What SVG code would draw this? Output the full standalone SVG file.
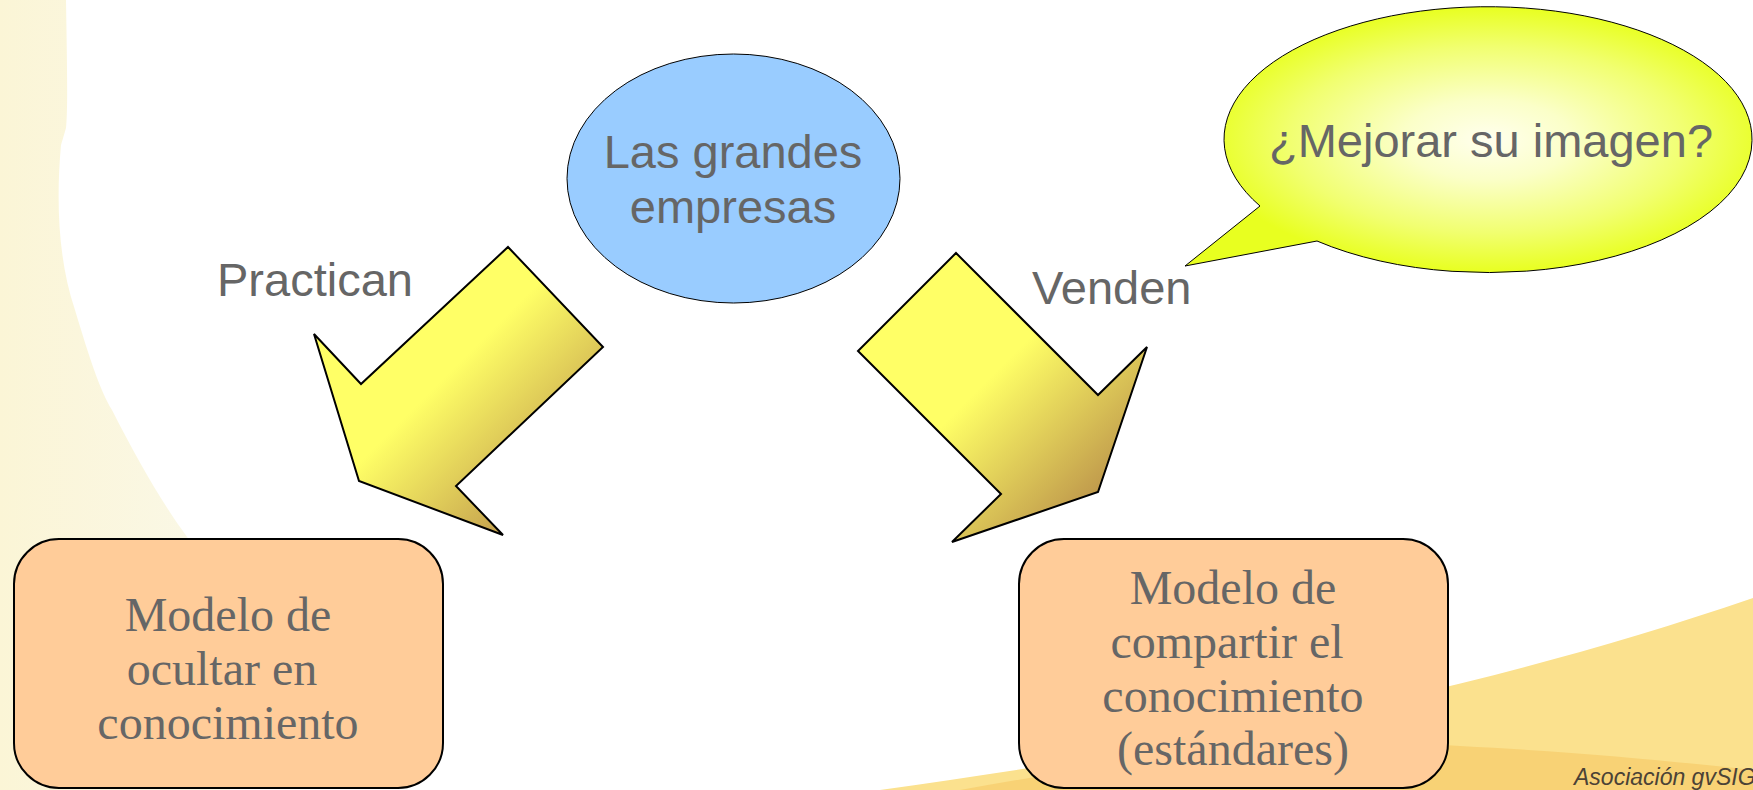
<svg xmlns="http://www.w3.org/2000/svg" width="1753" height="790" viewBox="0 0 1753 790">
  <style>
    .lbl { font-family: "Liberation Sans", Arial, sans-serif; fill: #666666; }
    .box-txt { font-family: "Liberation Serif", "Times New Roman", serif; fill: #666666; font-size: 48px; text-anchor: middle; }
    .box { fill: #FFCC99; stroke: #000; stroke-width: 2; }
    .arrow { stroke: #000; stroke-width: 2; stroke-linejoin: miter; }
  </style>
  <defs>
    <linearGradient id="cream" x1="0" y1="0" x2="230" y2="0" gradientUnits="userSpaceOnUse">
      <stop offset="0" stop-color="#FBF5D6"/>
      <stop offset="1" stop-color="#FAF8E8"/>
    </linearGradient>
    <linearGradient id="gArrowL" x1="448" y1="374" x2="556" y2="482" gradientUnits="userSpaceOnUse">
      <stop offset="0" stop-color="#FFFF66"/>
      <stop offset="1" stop-color="#C4A04E"/>
    </linearGradient>
    <linearGradient id="gArrowR" x1="983" y1="385" x2="1094" y2="496" gradientUnits="userSpaceOnUse">
      <stop offset="0" stop-color="#FFFF66"/>
      <stop offset="1" stop-color="#C09A4C"/>
    </linearGradient>
    <radialGradient id="gBubble" cx="0.534" cy="0.5" r="0.5">
      <stop offset="0" stop-color="#FFFFEE"/>
      <stop offset="0.3" stop-color="#FBFFC8"/>
      <stop offset="0.7" stop-color="#F1FF70"/>
      <stop offset="1" stop-color="#E8FF20"/>
    </radialGradient>
  </defs>

  <!-- background -->
  <rect x="0" y="0" width="1753" height="790" fill="#FFFFFF"/>
  <path d="M0 0 H66 C67 60 68 110 66 128 L61 145 C56 200 58 260 75 310 C90 360 100 390 112 410 C135 455 160 500 185 534 L230 600 L230 790 L0 790 Z" fill="url(#cream)"/>
  <path d="M880 790 C1150 752 1450 702 1753 598 L1753 790 Z" fill="#FBE18E"/>
  <path d="M960 790 C1150 755 1330 738 1460 746 C1580 752 1680 762 1753 770 L1753 790 Z" fill="#F8D275"/>
  <text x="1574" y="785" font-family="'Liberation Sans', Arial, sans-serif" font-style="italic" font-size="23" fill="#4B4236">Asociación gvSIG</text>

  <!-- connectors -->
  <g id="connectors">
    <polygon id="arrow-left" class="arrow" fill="url(#gArrowL)" points="508,247 603,347 456,486 503,535 359,481 314,334 361,384"/>
    <polygon id="arrow-right" class="arrow" fill="url(#gArrowR)" points="956,253 1098,395 1147,347 1098,492 952,542 1001,494 858,351"/>
    <text class="lbl" x="217" y="296" font-size="47">Practican</text>
    <text class="lbl" x="1032" y="304" font-size="47">Venden</text>
  </g>

  <!-- nodes -->
  <g id="node-empresas">
    <ellipse cx="733.5" cy="178.5" rx="166.5" ry="124.5" fill="#99CCFF" stroke="#000" stroke-width="1"/>
    <text class="lbl" x="733" y="168" font-size="47" text-anchor="middle">Las grandes</text>
    <text class="lbl" x="733" y="223" font-size="47" text-anchor="middle">empresas</text>
  </g>

  <g id="node-imagen">
    <path d="M1260 206 L1185 266 L1317 241 A264 132.5 0 0 0 1752 140.5 A264 132.5 0 1 0 1260 206 Z" fill="url(#gBubble)" stroke="#000" stroke-width="1"/>
    <text class="lbl" x="1491" y="157" font-size="47" text-anchor="middle">¿Mejorar su imagen?</text>
  </g>

  <g id="node-ocultar">
    <rect class="box" x="14" y="539" width="429" height="249" rx="45" ry="45"/>
    <text class="box-txt" x="228" y="631">Modelo de</text>
    <text class="box-txt" x="222" y="685">ocultar en</text>
    <text class="box-txt" x="228" y="739">conocimiento</text>
  </g>

  <g id="node-compartir">
    <rect class="box" x="1019" y="539" width="429" height="249" rx="45" ry="45"/>
    <text class="box-txt" x="1233" y="604">Modelo de</text>
    <text class="box-txt" x="1227" y="658">compartir el</text>
    <text class="box-txt" x="1233" y="712">conocimiento</text>
    <text class="box-txt" x="1233" y="765">(estándares)</text>
  </g>
</svg>
